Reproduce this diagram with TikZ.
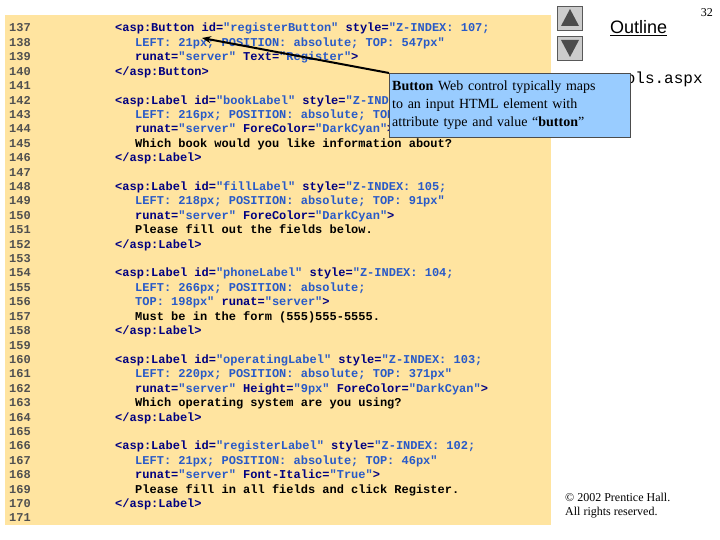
\documentclass[tikz,border=0pt]{standalone}
\usepackage{fontspec}
\setmainfont{Liberation Serif}
\newfontfamily\codefont{Liberation Mono}
\newfontfamily\sansfont{Liberation Sans}
\usetikzlibrary{arrows.meta}
\definecolor{bgyel}{RGB}{255,228,160}
\definecolor{tagc}{RGB}{0,0,128}
\definecolor{valc}{RGB}{40,90,200}
\definecolor{numc}{RGB}{80,80,80}
\definecolor{callb}{RGB}{153,204,255}
\newcommand{\Tg}[1]{\textcolor{tagc}{#1}}
\newcommand{\Vl}[1]{\textcolor{valc}{#1}}
\begin{document}
\begin{tikzpicture}[x=1pt,y=-1pt,
  code/.style={anchor=base west,inner sep=0pt,font=\codefont\bfseries\fontsize{12}{12}\selectfont},
  num/.style={code,text=numc},
  navbtn/.style={draw=gray!70!black,fill=gray!40,minimum width=25pt,minimum height=24pt,inner sep=0pt}]
\useasboundingbox (0,0) rectangle (720,540);
\fill[white] (0,0) rectangle (720,540);
\fill[bgyel] (5,15) rectangle (551,525);
\foreach \n [count=\i from 0] in {137,...,171}{
  \node[num] (n\n) at (9,{32+\i*14.41}) {\n};
}
\def\ly#1{{32+(#1-137)*14.41}}
\node[code] (l137) at (115,\ly{137}) {\Tg{<asp:Button id=}\Vl{"registerButton"} \Tg{style=}\Vl{"Z-INDEX: 107;}};
\node[code] (l138) at (135,\ly{138}) {\Vl{LEFT: 21px; POSITION: absolute; TOP: 547px"}};
\node[code] (l139) at (135,\ly{139}) {\Tg{runat=}\Vl{"server"} \Tg{Text=}\Vl{"Register"}\Tg{>}};
\node[code] (l140) at (115,\ly{140}) {\Tg{</asp:Button>}};
\node[code] (l142) at (115,\ly{142}) {\Tg{<asp:Label id=}\Vl{"bookLabel"} \Tg{style=}\Vl{"Z-INDEX: 106;}};
\node[code] (l143) at (135,\ly{143}) {\Vl{LEFT: 216px; POSITION: absolute; TOP: 115px"}};
\node[code] (l144) at (135,\ly{144}) {\Tg{runat=}\Vl{"server"} \Tg{ForeColor=}\Vl{"DarkCyan"}\Tg{>}};
\node[code] (l145) at (135,\ly{145}) {Which book would you like information about?};
\node[code] (l146) at (115,\ly{146}) {\Tg{</asp:Label>}};
\node[code] (l148) at (115,\ly{148}) {\Tg{<asp:Label id=}\Vl{"fillLabel"} \Tg{style=}\Vl{"Z-INDEX: 105;}};
\node[code] (l149) at (135,\ly{149}) {\Vl{LEFT: 218px; POSITION: absolute; TOP: 91px"}};
\node[code] (l150) at (135,\ly{150}) {\Tg{runat=}\Vl{"server"} \Tg{ForeColor=}\Vl{"DarkCyan"}\Tg{>}};
\node[code] (l151) at (135,\ly{151}) {Please fill out the fields below.};
\node[code] (l152) at (115,\ly{152}) {\Tg{</asp:Label>}};
\node[code] (l154) at (115,\ly{154}) {\Tg{<asp:Label id=}\Vl{"phoneLabel"} \Tg{style=}\Vl{"Z-INDEX: 104;}};
\node[code] (l155) at (135,\ly{155}) {\Vl{LEFT: 266px; POSITION: absolute;}};
\node[code] (l156) at (135,\ly{156}) {\Vl{TOP: 198px"} \Tg{runat=}\Vl{"server"}\Tg{>}};
\node[code] (l157) at (135,\ly{157}) {Must be in the form (555)555-5555.};
\node[code] (l158) at (115,\ly{158}) {\Tg{</asp:Label>}};
\node[code] (l160) at (115,\ly{160}) {\Tg{<asp:Label id=}\Vl{"operatingLabel"} \Tg{style=}\Vl{"Z-INDEX: 103;}};
\node[code] (l161) at (135,\ly{161}) {\Vl{LEFT: 220px; POSITION: absolute; TOP: 371px"}};
\node[code] (l162) at (135,\ly{162}) {\Tg{runat=}\Vl{"server"} \Tg{Height=}\Vl{"9px"} \Tg{ForeColor=}\Vl{"DarkCyan"}\Tg{>}};
\node[code] (l163) at (135,\ly{163}) {Which operating system are you using?};
\node[code] (l164) at (115,\ly{164}) {\Tg{</asp:Label>}};
\node[code] (l166) at (115,\ly{166}) {\Tg{<asp:Label id=}\Vl{"registerLabel"} \Tg{style=}\Vl{"Z-INDEX: 102;}};
\node[code] (l167) at (135,\ly{167}) {\Vl{LEFT: 21px; POSITION: absolute; TOP: 46px"}};
\node[code] (l168) at (135,\ly{168}) {\Tg{runat=}\Vl{"server"} \Tg{Font-Italic=}\Vl{"True"}\Tg{>}};
\node[code] (l169) at (135,\ly{169}) {Please fill in all fields and click Register.};
\node[code] (l170) at (115,\ly{170}) {\Tg{</asp:Label>}};
% right side
\node[code,font=\codefont\fontsize{16}{16}\selectfont] (file) at (616,84) {rols.aspx};
\node[anchor=base west,inner sep=0pt,font=\sansfont\fontsize{18}{18}\selectfont] (outl) at (610,34) {\underline{Outline}};
\node[anchor=base east,inner sep=0pt,font=\fontsize{12}{12}\selectfont] (pg) at (713,17) {32};
\node[navbtn] (up) at (570,18) {};
\node[navbtn] (down) at (570,48) {};
\fill[gray!60!black] (570,9) -- (561,26) -- (579,26) -- cycle;
\fill[gray!60!black] (570,57) -- (561,40) -- (579,40) -- cycle;
\node[anchor=base west,inner sep=0pt,align=left,font=\fontsize{12}{14}\selectfont] (copy) at (565,515) {\textcopyright{} 2002 Prentice Hall.\\All rights reserved.};
% callout
\node[draw=black!70,fill=callb,anchor=north west,minimum height=64pt,inner xsep=3pt,inner ysep=3pt,text width=235pt,align=left,font=\fontsize{14}{18}\selectfont] (call) at (389,73) {\textbf{Button} Web control typically maps\\to an input HTML element with\\attribute type and value “\textbf{button}”};
\coordinate (tip) at (202,38);
\draw[line width=2pt,-{Stealth[length=9pt,width=7pt]}] (call.north west) -- (tip);
\end{tikzpicture}
\end{document}
